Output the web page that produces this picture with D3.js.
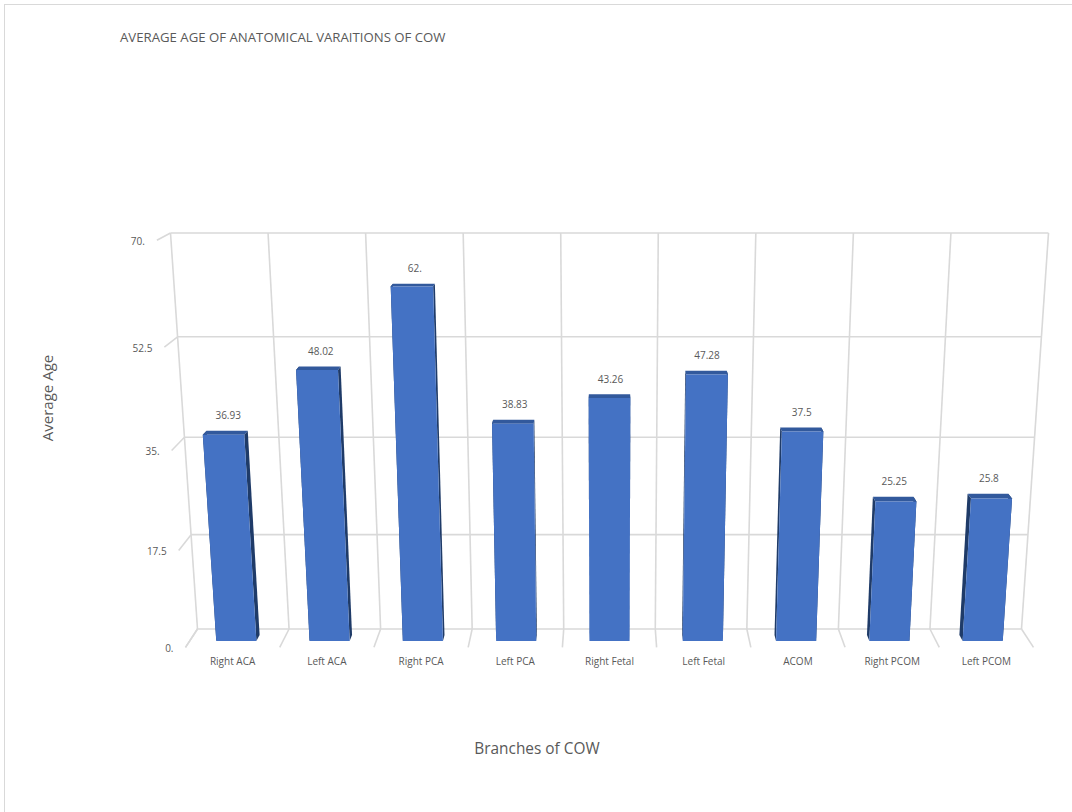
<!DOCTYPE html>
<html>
<head>
<meta charset="utf-8">
<script src="https://d3js.org/d3.v7.min.js"></script>
<style>
  body { margin: 0; background: #fff; }
  text { font-family: "Open Sans", sans-serif; fill: #595959; }
</style>
</head>
<body>
<script>

var categories = ["Right ACA", "Left ACA", "Right PCA", "Left PCA", "Right Fetal",
                  "Left Fetal", "ACOM", "Right PCOM", "Left PCOM"];
var values = [36.93, 48.02, 62, 38.83, 43.26, 47.28, 37.5, 25.25, 25.8];
var valueLabels = ["36.93", "48.02", "62.", "38.83", "43.26", "47.28", "37.5", "25.25", "25.8"];
var yTicks = [0, 17.5, 35, 52.5, 70];
var yTickLabels = ["0.", "17.5", "35.", "52.5", "70."];

var width = 1072, height = 812;

var svg = d3.select("body").append("svg")
    .attr("width", width)
    .attr("height", height);

// frame
svg.append("rect")
    .attr("x", 4.5).attr("y", 4.5)
    .attr("width", 1100).attr("height", 900)
    .attr("fill", "none")
    .attr("stroke", "#d9d9d9");

// category position across the wall, -0.5 .. 0.5
var x = d3.scaleBand()
    .domain(categories)
    .range([-0.5, 0.5])
    .paddingInner(0.57)
    .paddingOuter(0.285);

// value -> height fraction
var y = d3.scaleLinear().domain([0, 70]).range([0, 1]);

// perspective: camera above, looking down at the chart
var cx = 609.5;
function proj(X, t, Z) {
    var q = 1 - 0.0615 * t - 0.0283 * Z;
    return [cx + X * 824 / q, (629 - 410.3 * t) / q];
}

var zFront = 0.66, zBack = 0.34;
var grid = "#d9d9d9";

function line(a, b) {
    svg.append("line")
        .attr("x1", a[0]).attr("y1", a[1])
        .attr("x2", b[0]).attr("y2", b[1])
        .attr("stroke", grid)
        .attr("stroke-width", 1.6);
}

// back wall horizontal grid + left ticks
yTicks.forEach(function(v) {
    line(proj(-0.5, y(v), 0), proj(0.5, y(v), 0));
    line(proj(-0.5, y(v), 0), proj(-0.5, y(v), 1));
});

// vertical grid on wall and floor
d3.range(categories.length + 1).forEach(function(k) {
    var X = -0.5 + k / categories.length;
    line(proj(X, 0, 0), proj(X, 1, 0));
    line(proj(X, 0, 0), proj(X, 0, 1));
});

// tick labels
svg.selectAll(".ytick")
    .data(yTicks)
    .enter().append("text")
    .attr("class", "ytick")
    .attr("x", function(d) { return proj(-0.5, y(d), 1)[0] - 12; })
    .attr("y", function(d) { return proj(-0.5, y(d), 1)[1] + 1; })
    .attr("dy", "0.35em")
    .attr("text-anchor", "end")
    .attr("font-size", 10)
    .text(function(d, i) { return yTickLabels[i]; });

// bars
var poly = function(pts) { return pts.map(function(p) { return p.join(","); }).join(" "); };

categories.forEach(function(c, i) {
    var xl = x(c), xr = x(c) + x.bandwidth(), t = y(values[i]);
    var g = svg.append("g");
    // sides
    [xl, xr].forEach(function(xs) {
        g.append("polygon")
            .attr("points", poly([proj(xs, 0, zFront), proj(xs, t, zFront), proj(xs, t, zBack), proj(xs, 0, zBack)]))
            .attr("fill", "#1f3b68");
    });
    // top
    g.append("polygon")
        .attr("points", poly([proj(xl, t, zFront), proj(xr, t, zFront), proj(xr, t, zBack), proj(xl, t, zBack)]))
        .attr("fill", "#32599c");
    // front
    g.append("polygon")
        .attr("points", poly([proj(xl, 0, zFront), proj(xr, 0, zFront), proj(xr, t, zFront), proj(xl, t, zFront)]))
        .attr("fill", "#4472c4");

    var top = proj(xl + x.bandwidth() / 2, t, zBack);
    svg.append("text")
        .attr("x", top[0] + 1)
        .attr("y", top[1] - 15)
        .attr("dy", "0.35em")
        .attr("text-anchor", "middle")
        .attr("font-size", 10)
        .text(valueLabels[i]);

    var bottom = proj(xl + x.bandwidth() / 2, 0, 1);
    svg.append("text")
        .attr("x", bottom[0])
        .attr("y", bottom[1] + 14)
        .attr("dy", "0.35em")
        .attr("text-anchor", "middle")
        .attr("font-size", 10)
        .text(c);
});

// titles
svg.append("text")
    .attr("x", 120)
    .attr("y", 37)
    .attr("dy", "0.35em")
    .attr("font-size", 13.2)
    .text("AVERAGE AGE OF ANATOMICAL VARAITIONS OF COW");

svg.append("text")
    .attr("transform", "translate(48,398) rotate(-90)")
    .attr("dy", "0.35em")
    .attr("text-anchor", "middle")
    .attr("font-size", 15)
    .text("Average Age");

svg.append("text")
    .attr("x", 537)
    .attr("y", 749)
    .attr("dy", "0.35em")
    .attr("text-anchor", "middle")
    .attr("font-size", 15.4)
    .text("Branches of COW");

</script>
</body>
</html>
